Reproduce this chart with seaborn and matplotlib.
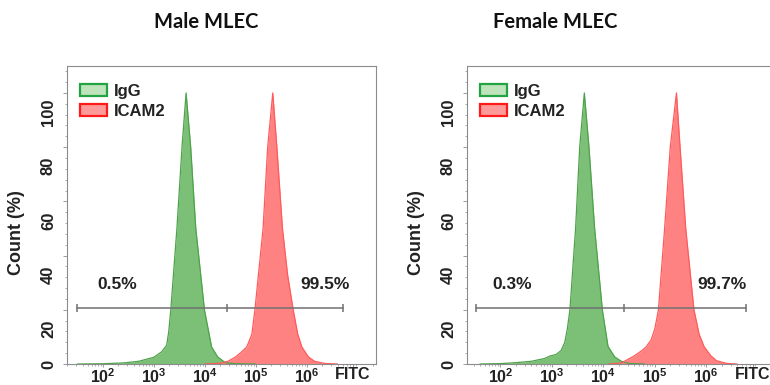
import numpy as np
import pandas as pd
import matplotlib
matplotlib.use('Agg')
import matplotlib.pyplot as plt
import matplotlib.transforms as mtransforms
from matplotlib.patches import Patch
import seaborn as sns

# ── data (x = log10 FITC, y = Count %)
male_igg_logx = [1.5, 2.0, 2.4, 2.7, 3.0, 3.15, 3.25, 3.29, 3.33, 3.45, 3.55, 3.63,
                 3.72, 3.82, 3.99, 4.13, 4.25, 4.4, 4.6, 5.0]
male_igg_y = [0, 0.1, 0.4, 1.0, 2.5, 4.5, 7, 12, 20, 50, 80, 100,
              80, 50, 20, 6.3, 2.6, 0.5, 0.1, 0]
male_icam_logx = [4.0, 4.3, 4.45, 4.6, 4.72, 4.82, 4.92, 4.98, 5.06, 5.14, 5.23, 5.33,
                  5.41, 5.52, 5.62, 5.73, 5.82, 5.90, 6.03, 6.15, 6.35, 6.6]
male_icam_y = [0, 0.3, 1.0, 2.6, 4.5, 6.3, 11, 20, 35, 50, 80, 100,
               80, 50, 33, 20, 11, 6.3, 2.6, 1.0, 0.2, 0]

female_igg_logx = [1.6, 2.0, 2.3, 2.6, 2.85, 2.97, 3.08, 3.18, 3.25, 3.30, 3.35, 3.46,
                   3.54, 3.63, 3.72, 3.83, 3.98, 4.09, 4.22, 4.35, 4.5, 4.8]
female_igg_y = [0, 0.15, 0.5, 1.0, 2.0, 3.0, 3.5, 5, 8, 13, 20, 50,
                80, 100, 80, 50, 20, 6.5, 2.6, 1.0, 0.2, 0]
female_icam_logx = [4.1, 4.35, 4.6, 4.75, 4.83, 4.93, 5.0, 5.07, 5.19, 5.30, 5.42,
                    5.49, 5.60, 5.76, 5.86, 5.96, 6.09, 6.2, 6.4, 6.6]
female_icam_y = [0, 0.4, 3, 5, 6.3, 9, 13, 20, 50, 80, 100,
                 80, 50, 20, 11, 6.3, 3, 1.2, 0.2, 0]

titles = ['Male MLEC', 'Female MLEC']
gate_logx = [[1.5, 4.43, 6.7], [1.53, 4.4, 6.77]]
gate_y = 20.7
neg_pct = ['0.5%', '0.3%']
pos_pct = ['99.5%', '99.7%']
neg_label_logx = [2.27, 2.22]
pos_label_logx = [6.35, 6.30]
xtick_exp = [2, 3, 4, 5, 6]
ytick_vals = [0, 20, 40, 60, 80, 100]

sns.set_style('ticks')
plt.rcParams['font.family'] = ['Liberation Sans', 'DejaVu Sans']
plt.rcParams['mathtext.fontset'] = 'custom'
plt.rcParams['mathtext.bf'] = 'Liberation Sans:bold'
plt.rcParams['mathtext.rm'] = 'Liberation Sans'

green_fill, green_edge = '#7cbf76', '#4da24a'
red_fill, red_edge = '#ff8282', '#ff5a5a'

fig = plt.figure(figsize=(7.7, 3.85), dpi=100)
axes = [fig.add_axes([0.087, 0.0545, 0.401, 0.7745]),
        fig.add_axes([0.6065, 0.0545, 0.401, 0.7745])]
xlims = [(1.294, 7.35), (1.35, 7.35)]
title_x = [206, 555]

series = [(male_igg_logx, male_igg_y, male_icam_logx, male_icam_y),
          (female_igg_logx, female_igg_y, female_icam_logx, female_icam_y)]

for i, ax in enumerate(axes):
    gx, gy, rx, ry = series[i]
    df_g = pd.DataFrame({'FITC': 10 ** np.array(gx), 'Count': gy})
    df_r = pd.DataFrame({'FITC': 10 ** np.array(rx), 'Count': ry})

    ax.fill_between(df_g['FITC'], df_g['Count'], color=green_fill, lw=0, zorder=2)
    sns.lineplot(data=df_g, x='FITC', y='Count', ax=ax, color=green_edge, lw=0.9,
                 sort=False, zorder=3)
    ax.fill_between(df_r['FITC'], df_r['Count'], color=red_fill, lw=0, zorder=2)
    sns.lineplot(data=df_r, x='FITC', y='Count', ax=ax, color=red_edge, lw=0.9,
                 sort=False, zorder=3)

    ax.set_xscale('log')
    ax.set_xlim(10 ** xlims[i][0], 10 ** xlims[i][1])
    ax.set_ylim(0, 110)

    # gate bar
    gxs = [10 ** v for v in gate_logx[i]]
    ax.plot([gxs[0], gxs[2]], [gate_y, gate_y], color='#707070', lw=1.1, zorder=4)
    ax.plot(gxs, [gate_y] * 3, ls='none', marker='|', ms=6, mew=1.1,
            color='#707070', zorder=4)
    ax.text(10 ** neg_label_logx[i], 29.5, neg_pct[i], ha='center', va='center',
            fontsize=12.5, fontweight='bold', color='#222222')
    ax.text(10 ** pos_label_logx[i], 29.5, pos_pct[i], ha='center', va='center',
            fontsize=12.5, fontweight='bold', color='#222222')

    # axes styling
    for s in ax.spines.values():
        s.set_color('#8c8c8c')
        s.set_linewidth(0.8)
    xt = [10 ** e for e in xtick_exp] + [10 ** 6.9]
    ax.set_xticks(xt)
    ax.set_xticklabels([f'$\\mathbf{{10^{{{e}}}}}$' for e in xtick_exp] + ['FITC'],
                       fontsize=11.5, fontweight='bold', color='#222222')
    ax.xaxis.set_minor_locator(matplotlib.ticker.LogLocator(base=10, subs=np.arange(2, 10)))
    ax.xaxis.set_minor_formatter(matplotlib.ticker.NullFormatter())
    ax.tick_params(axis='x', which='major', length=2.5, width=0.6, color='#8c8c8c', pad=0)
    ax.tick_params(axis='x', which='minor', length=1.5, width=0.5, color='#8c8c8c')
    ax.set_yticks(ytick_vals)
    ax.set_yticklabels([str(v) for v in ytick_vals], rotation=90, va='center',
                       fontsize=12, fontweight='bold', color='#222222')
    ax.yaxis.set_minor_locator(matplotlib.ticker.MultipleLocator(4))
    ax.tick_params(axis='y', which='major', length=3, width=0.6, color='#8c8c8c', pad=5)
    ax.tick_params(axis='y', which='minor', length=1.5, width=0.5, color='#8c8c8c')
    offset = mtransforms.ScaledTranslation(0, -0.19, fig.dpi_scale_trans)
    for lab in ax.get_yticklabels():
        if lab.get_text() != '0':
            lab.set_transform(lab.get_transform() + offset)

    ax.set_xlabel('')
    ax.set_ylabel('Count (%)', fontsize=13, fontweight='bold', color='#222222')
    ax.yaxis.set_label_coords(-0.135, 0.44)

    leg = ax.legend(handles=[Patch(facecolor='#bfe3ba', edgecolor='#22a444', lw=1.6, label='IgG'),
                             Patch(facecolor='#ff9a9a', edgecolor='#ff1a1a', lw=1.6, label='ICAM2')],
                    loc='upper left', bbox_to_anchor=(-0.005, 0.99), frameon=False,
                    handlelength=1.6, handleheight=0.65, handletextpad=0.4,
                    labelspacing=0.3, prop={'size': 12, 'weight': 'bold'})
    for t in leg.get_texts():
        t.set_color('#222222')

    fig.text(title_x[i] / 770, 1 - 22 / 385, titles[i], ha='center', va='center',
             fontsize=14.5, fontweight='bold', family=['Lato', 'DejaVu Sans'], color='#111111')

fig.savefig('out.png', dpi=100)
